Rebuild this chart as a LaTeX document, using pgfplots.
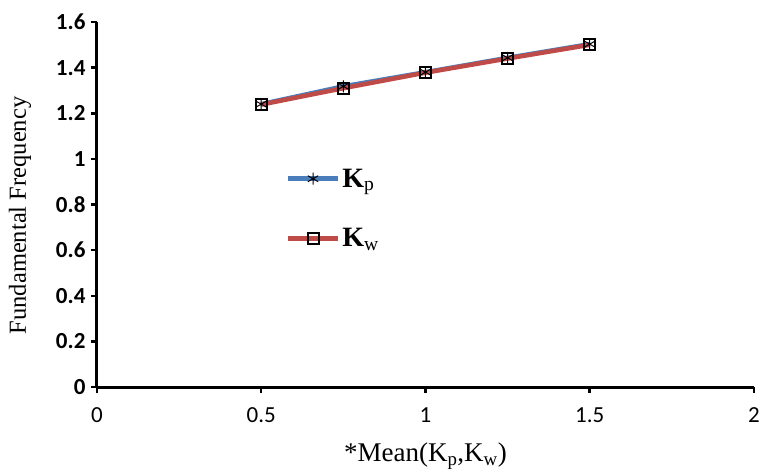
\documentclass[border=0pt]{standalone}
\usepackage{pgfplots}
\pgfplotsset{compat=1.18}
\usepackage{fontspec}
\setmainfont{Liberation Serif}
\newfontfamily\tickfont{Carlito}
\definecolor{kpblue}{HTML}{4A7EBB}
\definecolor{kwred}{HTML}{BE4B48}
\begin{document}
\begin{tikzpicture}
\begin{axis}[
  scale only axis, width=657pt, height=365pt,
  xmin=0, xmax=2, ymin=0, ymax=1.6,
  axis x line*=bottom, axis y line*=left,
  axis line style={-, line width=3pt, black},
  xtick={0,0.5,1,1.5,2},
  ytick={0,0.2,0.4,0.6,0.8,1,1.2,1.4,1.6},
  tick align=outside, major tick length=6pt,
  tick style={line width=2.5pt, black},
  /pgf/number format/assume math mode=true,
  xticklabel style={font=\tickfont\fontsize{23}{27}\selectfont, yshift=-11pt},
  yticklabel style={font=\tickfont\bfseries\fontsize{23}{27}\selectfont, xshift=-2pt},
  xlabel={*Mean(K\textsubscript{p},K\textsubscript{w})},
  ylabel={Fundamental Frequency},
  xlabel style={font=\fontsize{27}{30}\selectfont, at={(axis description cs:0.5,-0.189)}, anchor=center},
  ylabel style={font=\fontsize{24.5}{28}\selectfont, at={(axis description cs:-0.117,0.47)}, anchor=center},
  legend cell align=left,
  legend style={draw=none, fill=none, at={(axis cs:0.565,0.975)}, anchor=north west,
    font=\bfseries\fontsize{28}{32}\selectfont, row sep=36pt,
    /tikz/every even column/.append style={column sep=8pt}},
  legend image code/.code={\draw[mark repeat=2,mark phase=2,#1] plot coordinates {(0pt,0pt) (25pt,0pt) (50pt,0pt)};},
  clip=false,
]
\addplot[kpblue, line width=4.5pt, mark=asterisk, mark size=6pt, mark options={black, line width=1pt}]
  coordinates {(0.5,1.24) (0.75,1.318) (1,1.38) (1.25,1.443) (1.5,1.503)};
\addlegendentry{K\textsubscript{\mdseries p}}
\addplot[kwred, line width=4.5pt, mark=square, mark size=5.5pt, mark options={black, line width=2pt}]
  coordinates {(0.5,1.238) (0.75,1.31) (1,1.378) (1.25,1.44) (1.5,1.5)};
\addlegendentry{K\textsubscript{\mdseries w}}
\coordinate (bbl) at (rel axis cs:-0.1476,-0.2274);
\coordinate (btr) at (rel axis cs:1.0107,1.0603);
\end{axis}
\pgfresetboundingbox
\path[use as bounding box] (bbl) rectangle (btr);
\end{tikzpicture}
\end{document}
